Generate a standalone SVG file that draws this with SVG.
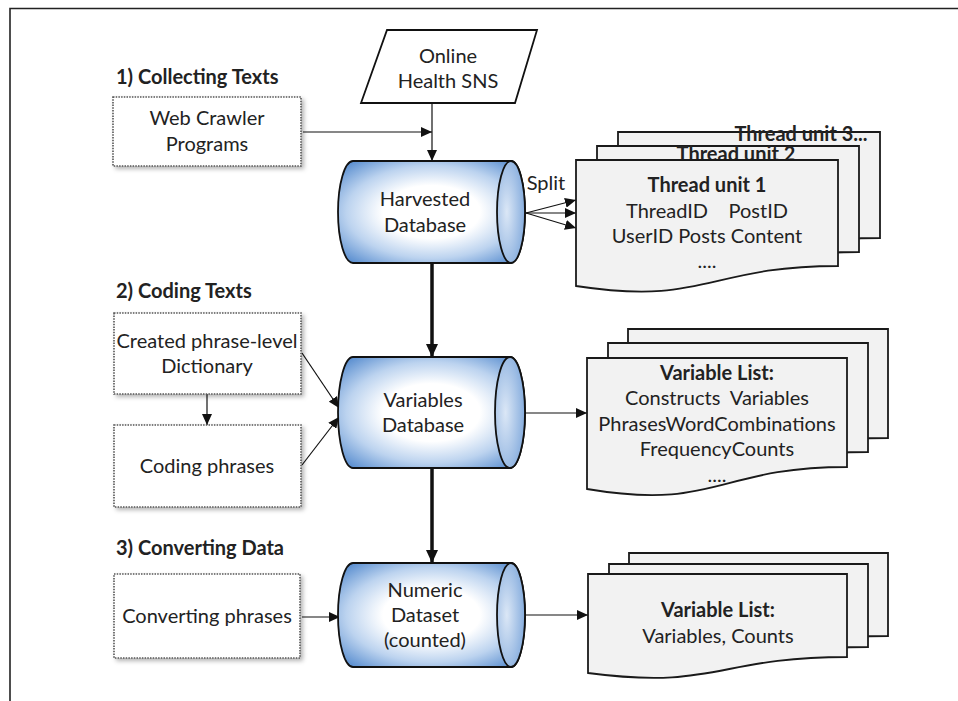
<svg xmlns="http://www.w3.org/2000/svg" width="958" height="701" viewBox="0 0 958 701">
<defs>
  <style>
    .t{font-family:Lato,"Liberation Sans",sans-serif;font-size:20px;fill:#222;text-anchor:middle}
    .b{font-weight:bold}
    .lbl{font-family:Lato,"Liberation Sans",sans-serif;font-size:20px;font-weight:bold;fill:#222}
    .box{fill:#fff;stroke:#555;stroke-width:1.6;stroke-dasharray:1.5 1.2;filter:url(#sh)}
    .doc{fill:#f2f2f2;stroke:#1a1a1a;stroke-width:1.8}
    .cyl{fill:url(#cg);stroke:#111;stroke-width:1.8}
    .face{fill:url(#fg);stroke:#111;stroke-width:1.8}
    .ln{stroke:#111;stroke-width:1.2;fill:none;marker-end:url(#ah)}
    .thick{stroke:#111;stroke-width:3.5;fill:none;marker-end:url(#ahb)}
  </style>
  <filter id="sh" x="-10%" y="-10%" width="130%" height="130%">
    <feDropShadow dx="2.5" dy="2.5" stdDeviation="2" flood-color="#000" flood-opacity="0.3"/>
  </filter>
  <radialGradient id="cg" cx="50%" cy="50%" r="65%">
    <stop offset="0" stop-color="#ffffff"/>
    <stop offset="0.4" stop-color="#ffffff"/>
    <stop offset="0.7" stop-color="#bcd3ef"/>
    <stop offset="1" stop-color="#5b8fd0"/>
  </radialGradient>
  <radialGradient id="fg" cx="35%" cy="50%" r="75%">
    <stop offset="0" stop-color="#dbe7f6"/>
    <stop offset="1" stop-color="#79a4da"/>
  </radialGradient>
  <marker id="ah" markerUnits="userSpaceOnUse" markerWidth="12" markerHeight="10" refX="11" refY="5" orient="auto">
    <path d="M0,0 L11,5 L0,10 Z" fill="#111"/>
  </marker>
  <marker id="ahb" markerUnits="userSpaceOnUse" markerWidth="14" markerHeight="14" refX="13" refY="7" orient="auto">
    <path d="M0,1 L13,7 L0,13 Z" fill="#111"/>
  </marker>
</defs>

<g id="frame" fill="none" stroke="#222" stroke-width="1.6">
  <path d="M10,701 V8.5 H958"/>
</g>

<g id="labels">
  <text class="lbl" x="116" y="84">1) Collecting Texts</text>
  <text class="lbl" x="116" y="298">2) Coding Texts</text>
  <text class="lbl" x="116" y="555">3) Converting Data</text>
</g>

<g id="connectors">
  <line class="ln" x1="432" y1="103" x2="432" y2="161"/>
  <line class="ln" x1="303" y1="132" x2="432" y2="132"/>
  <line class="ln" x1="526" y1="213" x2="576" y2="200"/>
  <line class="ln" x1="526" y1="213" x2="576" y2="213"/>
  <line class="ln" x1="526" y1="213" x2="576" y2="228"/>
  <line class="thick" x1="432" y1="263" x2="432" y2="357"/>
  <line class="thick" x1="432" y1="468" x2="432" y2="563"/>
  <line class="ln" x1="302" y1="353" x2="339" y2="408"/>
  <line class="ln" x1="302" y1="465" x2="339" y2="417"/>
  <line class="ln" x1="207" y1="394" x2="207" y2="425"/>
  <line class="ln" x1="525" y1="413" x2="587" y2="413"/>
  <line class="ln" x1="302" y1="617" x2="340" y2="617"/>
  <line class="ln" x1="525" y1="615" x2="588" y2="615"/>
  <text class="t" x="546" y="190">Split</text>
</g>

<g id="online-sns">
  <path d="M387,30 H537 L515,103 H361 Z" fill="#fff" stroke="#111" stroke-width="1.8"/>
  <text class="t" x="448" y="63">Online</text>
  <text class="t" x="448" y="88">Health SNS</text>
</g>

<g id="web-crawler">
  <rect class="box" x="113" y="97" width="188" height="69"/>
  <text class="t" x="207" y="125">Web Crawler</text>
  <text class="t" x="207" y="151">Programs</text>
</g>

<g id="dictionary">
  <rect class="box" x="114" y="313" width="187" height="81"/>
  <text class="t" x="207" y="348">Created phrase-level</text>
  <text class="t" x="207" y="373">Dictionary</text>
</g>

<g id="coding">
  <rect class="box" x="114" y="425" width="187" height="82"/>
  <text class="t" x="207" y="473">Coding phrases</text>
</g>

<g id="converting">
  <rect class="box" x="114" y="574" width="186" height="84"/>
  <text class="t" x="207" y="623">Converting phrases</text>
</g>

<g id="harvested-db">
  <path class="cyl" d="M353,161 H511 A14,51 0 0 1 511,263 H353 A15,51 0 0 1 353,161 Z"/>
  <ellipse class="face" cx="511" cy="212" rx="14" ry="51"/>
  <text class="t" x="425" y="206">Harvested</text>
  <text class="t" x="425" y="232">Database</text>
</g>

<g id="variables-db">
  <path class="cyl" d="M353,357 H510 A15,55.5 0 0 1 510,468 H353 A15,55.5 0 0 1 353,357 Z"/>
  <ellipse class="face" cx="510" cy="412.5" rx="15" ry="55.5"/>
  <text class="t" x="423" y="407">Variables</text>
  <text class="t" x="423" y="432">Database</text>
</g>

<g id="numeric-db">
  <path class="cyl" d="M353,563 H511 A14,52 0 0 1 511,667 H353 A15,52 0 0 1 353,563 Z"/>
  <ellipse class="face" cx="511" cy="615" rx="14" ry="52"/>
  <text class="t" x="425" y="597">Numeric</text>
  <text class="t" x="425" y="622">Dataset</text>
  <text class="t" x="425" y="647">(counted)</text>
</g>

<g id="thread-units">
  <path class="doc" transform="translate(42,-28)" d="M576,160 H838 V266 C707,266 707,306 576,286 Z"/>
  <text class="t b" x="801" y="141">Thread unit 3...</text>
  <path class="doc" transform="translate(21,-14)" d="M576,160 H838 V266 C707,266 707,306 576,286 Z"/>
  <text class="t b" x="736" y="161">Thread unit 2</text>
  <path class="doc" d="M576,160 H838 V266 C707,266 707,306 576,286 Z"/>
  <text class="t b" x="707" y="192">Thread unit 1</text>
  <text class="t" x="707" y="218" xml:space="preserve">ThreadID    PostID</text>
  <text class="t" x="707" y="243">UserID Posts Content</text>
  <text class="t" x="707" y="268">....</text>
</g>

<g id="variable-list-1">
  <path class="doc" transform="translate(41,-29)" d="M587,358 H847 V467 C717,467 717,511 587,489 Z"/>
  <path class="doc" transform="translate(21,-15)" d="M587,358 H847 V467 C717,467 717,511 587,489 Z"/>
  <path class="doc" d="M587,358 H847 V467 C717,467 717,511 587,489 Z"/>
  <text class="t b" x="717" y="380">Variable List:</text>
  <text class="t" x="717" y="405" xml:space="preserve">Constructs  Variables</text>
  <text class="t" x="717" y="431">PhrasesWordCombinations</text>
  <text class="t" x="717" y="456">FrequencyCounts</text>
  <text class="t" x="717" y="482">....</text>
</g>

<g id="variable-list-2">
  <path class="doc" transform="translate(41,-21)" d="M588,574 H847 V657 C717,657 717,690 588,673 Z"/>
  <path class="doc" transform="translate(21,-10)" d="M588,574 H847 V657 C717,657 717,690 588,673 Z"/>
  <path class="doc" d="M588,574 H847 V657 C717,657 717,690 588,673 Z"/>
  <text class="t b" x="718" y="617">Variable List:</text>
  <text class="t" x="718" y="643">Variables, Counts</text>
</g>
</svg>
